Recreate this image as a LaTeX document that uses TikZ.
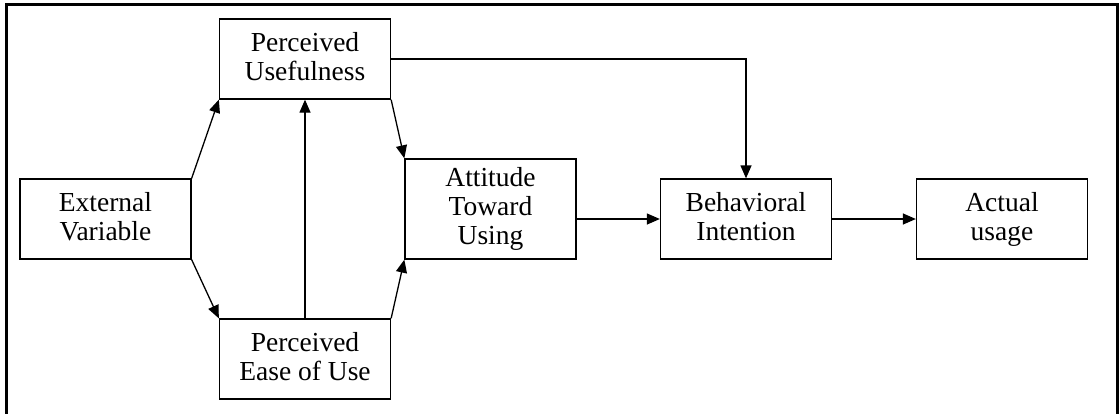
\documentclass[tikz,border=0pt]{standalone}
\usepackage{fontspec}
\setmainfont{Liberation Serif}
\usetikzlibrary{positioning,calc,arrows.meta}

\begin{document}
\begin{tikzpicture}[x=1pt, y=-1pt,
    box/.style={draw, line width=1.3pt, minimum width=171pt, minimum height=80pt,
        inner sep=0pt, align=center, font=\fontsize{27.5}{29}\selectfont,
        execute at end node=\vphantom{g}},
    arr/.style={line width=1.3pt, -{Triangle[length=13pt,width=11pt]}}]
    \useasboundingbox (0,0) rectangle (1120,413);
    \draw[line width=3pt] (6,420) -- (6,4) -- (1117.5,4) -- (1117.5,420);

    \node[box] (ext) at (105.5,219) {External\\Variable};
    \node[box] (pu) at (305,59) {Perceived\\Usefulness};
    \node[box] (peou) at (305,359) {Perceived\\Ease of Use};
    \node[box, minimum height=100pt] (att) at (490.5,209) {Attitude\\Toward\\Using};
    \node[box] (bi) at (746,219) {Behavioral\\Intention};
    \node[box] (act) at (1002,219) {Actual\\usage};

    \draw[arr] (ext.north east) -- (pu.south west);
    \draw[arr] (ext.south east) -- (peou.north west);
    \draw[arr] (peou.north) -- (pu.south);
    \draw[arr] (pu.south east) -- (att.north west);
    \draw[arr] (peou.north east) -- (att.south west);
    \draw[arr] (pu.east) -| (bi.north);
    \draw[arr] (att.east |- bi.west) -- (bi.west);
    \draw[arr] (bi.east) -- (act.west);
\end{tikzpicture}
\end{document}
